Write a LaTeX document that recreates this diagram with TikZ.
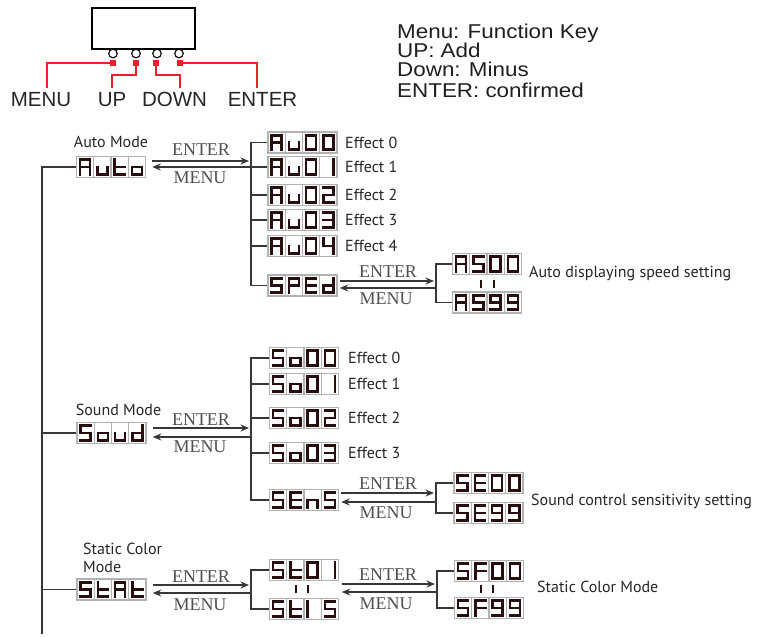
\documentclass[tikz,border=0pt]{standalone}
\usepackage{fontspec}
\setmainfont{Liberation Serif}
\newfontfamily\hdrfont[FakeStretch=1.12]{Liberation Sans}
\newfontfamily\keyfont{Liberation Sans}
\newfontfamily\humfont{PT Sans}
\newfontfamily\serfont{Liberation Serif}
\usetikzlibrary{arrows.meta,calc}
\definecolor{segcol}{RGB}{40,14,14}
\definecolor{cellgray}{RGB}{178,178,178}
\definecolor{keyred}{RGB}{232,32,42}
\definecolor{linegray}{RGB}{55,55,55}
\definecolor{txtgray}{RGB}{80,80,80}
% seven segment patterns a b c d e f g
\def\sgZero{1111110}
\def\sgOne{0110000}
\def\sgOneL{0000110}
\def\sgTwo{1101101}
\def\sgThree{1111001}
\def\sgFour{0110011}
\def\sgS{1011011}
\def\sgNine{1111011}
\def\sgA{1110111}
\def\sgU{0011100}
\def\sgT{0001111}
\def\sgO{0011101}
\def\sgP{1100111}
\def\sgE{1001111}
\def\sgD{0111101}
\def\sgN{0010101}
\def\sgF{1000111}
\def\segparse#1#2#3#4#5#6#7\relax{%
  \ifnum#1=1 \draw[segline] (-5,-7.2) -- (5,-7.2);\fi
  \ifnum#2=1 \draw[segline] (5,-7.2) -- (5,0);\fi
  \ifnum#3=1 \draw[segline] (5,0) -- (5,7.2);\fi
  \ifnum#4=1 \draw[segline] (-5,7.2) -- (5,7.2);\fi
  \ifnum#5=1 \draw[segline] (-5,0) -- (-5,7.2);\fi
  \ifnum#6=1 \draw[segline] (-5,-7.2) -- (-5,0);\fi
  \ifnum#7=1 \draw[segline] (-5,0) -- (5,0);\fi
}
\newcommand\segbits[3]{%
  \begin{scope}[shift={(#1,#2)}]
  \expandafter\segparse#3\relax
  \end{scope}}
\newcommand\sevdisp[7]{%
  \node[dispbox] (#1) at (#2,#3) {};
  \foreach \dx in {-17.25,0,17.25}{\draw[cellline] (#2+\dx,#3-10.5) -- (#2+\dx,#3+10.5);}
  \segbits{#2-25.875}{#3}{#4}%
  \segbits{#2-8.625}{#3}{#5}%
  \segbits{#2+8.625}{#3}{#6}%
  \segbits{#2+25.875}{#3}{#7}%
}
\tikzset{
  segline/.style={draw=segcol, line width=2.7pt, line cap=rect},
  cellline/.style={draw=cellgray, line width=1.3pt},
  dispbox/.style={draw=cellgray, line width=1.5pt, fill=white, minimum width=69pt, minimum height=21pt, inner sep=0pt},
  conn/.style={draw=linegray, line width=1.1pt},
  arr/.style={draw=linegray, line width=1.5pt, -{Stealth[length=8.5pt,width=7pt]}},
  redline/.style={draw=keyred, line width=1.3pt},
  redsq/.style={fill=keyred, minimum size=6pt, inner sep=0pt},
  knob/.style={circle, draw=black, line width=1.1pt, fill=white, minimum size=8.6pt, inner sep=0pt},
  hdr/.style={font=\hdrfont\fontsize{20}{22}\selectfont, text=black!88, inner sep=0pt},
  keylbl/.style={font=\keyfont\fontsize{20.5}{22}\selectfont, text=black!85, inner sep=0pt},
  lbl/.style={font=\humfont\fontsize{16}{18}\selectfont, text=black!85, inner sep=0pt},
  keytxt/.style={font=\serfont\fontsize{18}{20}\selectfont, text=txtgray, inner sep=0pt},
  barline/.style={draw=segcol, line width=2pt},
}
\begin{document}
\begin{tikzpicture}[x=1pt,y=-1pt]
\fill[white] (0,0) rectangle (758,637);
\useasboundingbox (0,0) rectangle (758,637);
% ---------- key panel ----------
\node[draw=black, line width=1.3pt, minimum width=103pt, minimum height=41pt, inner sep=0pt] (panel) at (143.5,28.5) {};
\node[knob] (k1) at (113,53.5) {};
\node[knob] (k2) at (136,53.5) {};
\node[knob] (k3) at (157,53.5) {};
\node[knob] (k4) at (179,53.5) {};
\node[redsq] (s1) at (113,63) {};
\node[redsq] (s2) at (136,63) {};
\node[redsq] (s3) at (156,63) {};
\node[redsq] (s4) at (180,63) {};
\coordinate (eMenu) at (47,88);
\coordinate (eUp) at (112,88);
\coordinate (eDown) at (180,88);
\coordinate (eEnter) at (257,88);
\draw[redline] (s1.center) -| (eMenu);
\draw[redline] (s2.center) -- (136,75) -| (eUp);
\draw[redline] (s3.center) -- (156,75) -| (eDown);
\draw[redline] (s4.center) -| (eEnter);
\node[keylbl, anchor=base] (lMenu) at (41,106.7) {MENU};
\node[keylbl, anchor=base] (lUp) at (112,106.7) {UP};
\node[keylbl, anchor=base] (lDown) at (174.5,106.7) {DOWN};
\node[keylbl, anchor=base] (lEnter) at (262.5,106.7) {ENTER};
\node[hdr, anchor=base west] (h1) at (397,38.3) {Menu: Function Key};
\node[hdr, anchor=base west] (h2) at (397,57.7) {UP: Add};
\node[hdr, anchor=base west] (h3) at (397,76.7) {Down: Minus};
\node[hdr, anchor=base west] (h4) at (397,97.3) {ENTER: confirmed};
% ---------- main modes ----------
\sevdisp{dAuto}{111}{167}{\sgA}{\sgU}{\sgT}{\sgO}
\sevdisp{dSoud}{111.5}{433}{\sgS}{\sgO}{\sgU}{\sgD}
\sevdisp{dStAt}{111.5}{589.5}{\sgS}{\sgT}{\sgA}{\sgT}
\node[lbl] (tAuto) at (111,141.5) {Auto Mode};
\node[lbl] (tSound) at (118.5,409.5) {Sound Mode};
\node[lbl, anchor=west, align=left] (tStatic) at (83,558) {Static Color\\Mode};
\coordinate (mTop) at (42,167);
\coordinate (mBot) at (42,634);
\draw[conn] (dAuto.west) -- (mTop) -- (mBot);
\draw[conn] (dSoud.west) -- (dSoud.west -| mTop);
\draw[conn] (dStAt.west) -- (dStAt.west -| mTop);
% ---------- auto branch ----------
\sevdisp{dAU0}{302.5}{142.5}{\sgA}{\sgU}{\sgZero}{\sgZero}
\sevdisp{dAU1}{302.5}{167}{\sgA}{\sgU}{\sgZero}{\sgOne}
\sevdisp{dAU2}{302.5}{195}{\sgA}{\sgU}{\sgZero}{\sgTwo}
\sevdisp{dAU3}{302.5}{220}{\sgA}{\sgU}{\sgZero}{\sgThree}
\sevdisp{dAU4}{302.5}{246}{\sgA}{\sgU}{\sgZero}{\sgFour}
\sevdisp{dSPEd}{302.5}{285.5}{\sgS}{\sgP}{\sgE}{\sgD}
\node[lbl, anchor=west] (eA0) at (345,142.5) {Effect 0};
\node[lbl, anchor=west] (eA1) at (345,167) {Effect 1};
\node[lbl, anchor=west] (eA2) at (345,195) {Effect 2};
\node[lbl, anchor=west] (eA3) at (345,220) {Effect 3};
\node[lbl, anchor=west] (eA4) at (345,246) {Effect 4};
\coordinate (bA) at (251,167);
\draw[conn] (dAU0.west) -| (bA) |- (dSPEd.west);
\draw[conn] (dAU1.west) -- (bA);
\draw[conn] (dAU2.west) -- (dAU2.west -| bA);
\draw[conn] (dAU3.west) -- (dAU3.west -| bA);
\draw[conn] (dAU4.west) -- (dAU4.west -| bA);
\draw[arr] ($(dAuto.east)+(6,-6)$) -- ($(bA)+(-2,-6)$);
\draw[arr] (bA) -- ($(dAuto.east)+(6,0)$);
\node[keytxt] (kAE) at (201,150) {ENTER};
\node[keytxt] (kAM) at (200,178) {MENU};
% speed
\sevdisp{dAS0}{487}{264}{\sgA}{\sgS}{\sgZero}{\sgZero}
\sevdisp{dAS9}{487}{302.5}{\sgA}{\sgS}{\sgNine}{\sgNine}
\draw[barline] (481,279.5) -- (481,287.5);
\draw[barline] (493.5,279.5) -- (493.5,287.5);
\coordinate (bS) at (436,288);
\draw[conn] (dAS0.west) -| (bS) |- (dAS9.west);
\draw[arr] ($(dSPEd.east)+(2,-4.5)$) -- ($(bS)+(-2,-7)$);
\draw[arr] (bS) -- ($(dSPEd.east)+(2,2.5)$);
\node[keytxt] (kSE) at (388,272) {ENTER};
\node[keytxt] (kSM) at (386,299) {MENU};
\node[lbl, anchor=west] (tSpeed) at (529,274) {Auto displaying speed setting};
% ---------- sound branch ----------
\sevdisp{dSo0}{304}{358}{\sgS}{\sgO}{\sgZero}{\sgZero}
\sevdisp{dSo1}{304}{384}{\sgS}{\sgO}{\sgZero}{\sgOne}
\sevdisp{dSo2}{304}{418}{\sgS}{\sgO}{\sgZero}{\sgTwo}
\sevdisp{dSo3}{304}{453}{\sgS}{\sgO}{\sgZero}{\sgThree}
\sevdisp{dSEnS}{304}{500}{\sgS}{\sgE}{\sgN}{\sgS}
\node[lbl, anchor=west] (eS0) at (348,358) {Effect 0};
\node[lbl, anchor=west] (eS1) at (348,384) {Effect 1};
\node[lbl, anchor=west] (eS2) at (348,418) {Effect 2};
\node[lbl, anchor=west] (eS3) at (348,453) {Effect 3};
\coordinate (bSo) at (251,437);
\draw[conn] (dSo0.west) -| (bSo) |- (dSEnS.west);
\draw[conn] (dSo1.west) -- (dSo1.west -| bSo);
\draw[conn] (dSo2.west) -- (dSo2.west -| bSo);
\draw[conn] (dSo3.west) -- (dSo3.west -| bSo);
\draw[arr] ($(dSoud.east)+(6,-5)$) -- ($(bSo)+(-2,-9)$);
\draw[arr] (bSo) -- ($(dSoud.east)+(6,4)$);
\node[keytxt] (kOE) at (201,420) {ENTER};
\node[keytxt] (kOM) at (200,447) {MENU};
% sensitivity
\sevdisp{dSE0}{488.5}{483}{\sgS}{\sgE}{\sgZero}{\sgZero}
\sevdisp{dSE9}{488.5}{513}{\sgS}{\sgE}{\sgNine}{\sgNine}
\coordinate (bSe) at (436,502);
\draw[conn] (dSE0.west) -| (bSe) |- (dSE9.west);
\draw[arr] ($(dSEnS.east)+(2,-7)$) -- ($(bSe)+(-2,-9)$);
\draw[arr] (bSe) -- ($(dSEnS.east)+(2,2)$);
\node[keytxt] (kNE) at (388,484) {ENTER};
\node[keytxt] (kNM) at (386,513) {MENU};
\node[lbl, anchor=west] (tSens) at (531,501) {Sound control sensitivity setting};
% ---------- static branch ----------
\sevdisp{dSt1}{304}{570}{\sgS}{\sgT}{\sgZero}{\sgOne}
\sevdisp{dSt5}{304}{609}{\sgS}{\sgT}{\sgOneL}{\sgS}
\draw[barline] (296,585) -- (296,593);
\draw[barline] (308,585) -- (308,593);
\coordinate (bSt) at (251,593);
\draw[conn] (dSt1.west) -| (bSt) |- (dSt5.west);
\draw[arr] ($(dStAt.east)+(6,-4.5)$) -- ($(bSt)+(-2,-8)$);
\draw[arr] (bSt) -- ($(dStAt.east)+(6,3.5)$);
\node[keytxt] (kTE) at (201,577) {ENTER};
\node[keytxt] (kTM) at (200,605) {MENU};
\sevdisp{dSF0}{489}{571}{\sgS}{\sgF}{\sgZero}{\sgZero}
\sevdisp{dSF9}{489}{608}{\sgS}{\sgF}{\sgNine}{\sgNine}
\draw[barline] (480.5,585) -- (480.5,593);
\draw[barline] (493,585) -- (493,593);
\coordinate (bSF) at (437,592);
\draw[conn] (dSF0.west) -| (bSF) |- (dSF9.west);
\draw[arr] ($(dSt1.east)+(2.5,14)$) -- ($(bSF)+(-2,-8)$);
\draw[arr] (bSF) -- ($(dSt1.east)+(2.5,22)$);
\node[keytxt] (kFE) at (388,575) {ENTER};
\node[keytxt] (kFM) at (386,604) {MENU};
\node[lbl, anchor=west] (tStat) at (537,587) {Static Color Mode};
\end{tikzpicture}
\end{document}
